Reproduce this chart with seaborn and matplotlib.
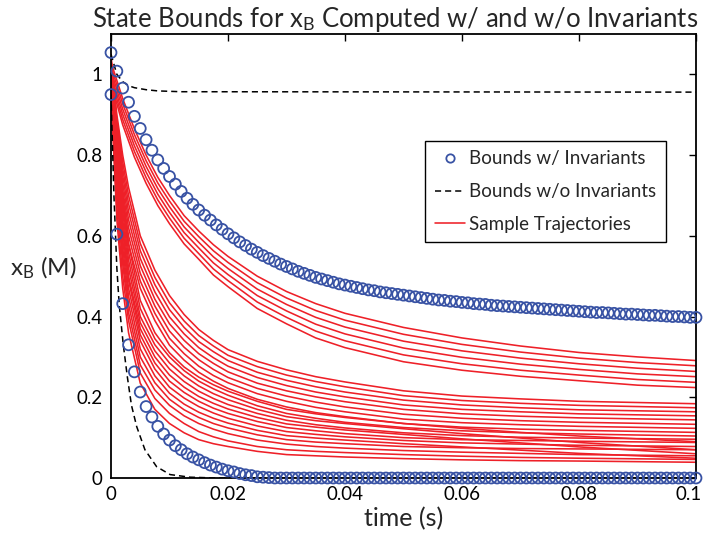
import numpy as np
import pandas as pd
import matplotlib
matplotlib.use("Agg")
import matplotlib.pyplot as plt
import matplotlib.transforms as mtransforms
import seaborn as sns
from matplotlib.lines import Line2D

# ---------------- data ----------------
t_bound = np.round(np.arange(101) * 0.001, 3)

upper_inv = [1.054, 1.008, 0.966, 0.931, 0.896, 0.866, 0.838, 0.812, 0.788, 0.767,
             0.747, 0.728, 0.710, 0.693, 0.678, 0.664,
             0.651, 0.639, 0.627, 0.616, 0.605, 0.595, 0.585, 0.576, 0.567, 0.559,
             0.551, 0.544, 0.537, 0.530, 0.524, 0.518, 0.512, 0.507, 0.502, 0.497,
             0.493, 0.489, 0.485, 0.481, 0.478, 0.475, 0.472, 0.469, 0.466, 0.464,
             0.461, 0.459, 0.457, 0.455, 0.453,
             0.451, 0.449, 0.447, 0.445, 0.443, 0.441, 0.440, 0.438, 0.437, 0.435,
             0.434, 0.432, 0.431, 0.430, 0.428, 0.427, 0.426, 0.425, 0.424, 0.423,
             0.422, 0.421, 0.420, 0.419, 0.418, 0.417, 0.416, 0.415, 0.414, 0.413,
             0.412, 0.411, 0.410, 0.410, 0.409, 0.408, 0.407, 0.406, 0.406, 0.405,
             0.404, 0.403, 0.403, 0.402, 0.401, 0.400, 0.400, 0.399, 0.398, 0.398]

lower_inv = [0.950, 0.604, 0.432, 0.330, 0.263, 0.213, 0.177, 0.151, 0.128, 0.109,
             0.094, 0.080, 0.070, 0.060, 0.052, 0.045, 0.038, 0.032, 0.027, 0.022,
             0.018, 0.015, 0.011, 0.008, 0.006, 0.003, 0.002, 0.001] + [0.0] * 73

t_dash_up = [0, 0.001, 0.002, 0.003, 0.004, 0.006, 0.008, 0.012, 0.1]
dash_up = [1.05, 1.0, 0.982, 0.972, 0.967, 0.962, 0.959, 0.957, 0.956]

t_dash_lo = [0, 0.0002, 0.0005, 0.001, 0.0014, 0.0021, 0.0028, 0.0035, 0.0044,
             0.0058, 0.0078, 0.0101, 0.0135, 0.018, 0.1]
dash_lo = [0.95, 0.85, 0.70, 0.52, 0.43, 0.33, 0.25, 0.18, 0.127,
           0.07, 0.028, 0.0085, 0.002, 0.0, 0.0]

# slow-decaying sample trajectories
t_slow = [0, 0.002, 0.004, 0.006, 0.008, 0.01, 0.0125, 0.015, 0.0175, 0.02,
          0.025, 0.03, 0.035, 0.04, 0.05, 0.06, 0.07, 0.08, 0.09, 0.1]
slow_1 = [1.030, 0.940, 0.865, 0.800, 0.745, 0.700, 0.650, 0.612, 0.578, 0.549, 0.500, 0.462, 0.432, 0.408, 0.373, 0.347, 0.327, 0.311, 0.300, 0.291]
slow_2 = [1.020, 0.927, 0.851, 0.786, 0.731, 0.686, 0.636, 0.598, 0.563, 0.534, 0.484, 0.446, 0.415, 0.391, 0.356, 0.331, 0.312, 0.297, 0.286, 0.278]
slow_3 = [1.010, 0.914, 0.837, 0.772, 0.717, 0.672, 0.622, 0.584, 0.548, 0.519, 0.468, 0.430, 0.398, 0.374, 0.339, 0.315, 0.297, 0.283, 0.272, 0.264]
slow_4 = [1.000, 0.901, 0.823, 0.758, 0.703, 0.658, 0.608, 0.570, 0.533, 0.504, 0.452, 0.414, 0.381, 0.357, 0.322, 0.299, 0.282, 0.269, 0.258, 0.251]
slow_5 = [0.990, 0.888, 0.809, 0.744, 0.689, 0.644, 0.594, 0.556, 0.518, 0.489, 0.436, 0.398, 0.364, 0.340, 0.305, 0.283, 0.267, 0.255, 0.244, 0.237]
slow_6 = [0.980, 0.875, 0.795, 0.730, 0.675, 0.630, 0.580, 0.542, 0.503, 0.474, 0.420, 0.382, 0.347, 0.323, 0.288, 0.267, 0.252, 0.241, 0.230, 0.224]

# fast-decaying sample trajectories
t_fast = [0, 0.001, 0.002, 0.003, 0.005, 0.0075, 0.01, 0.0125, 0.015, 0.0175,
          0.02, 0.025, 0.03, 0.035, 0.04, 0.05, 0.06, 0.07, 0.08, 0.1]
fast_s1 = [1.040, 0.900, 0.800, 0.720, 0.600, 0.515, 0.452, 0.405, 0.368, 0.341, 0.318, 0.289, 0.268, 0.251, 0.238, 0.216, 0.203, 0.196, 0.190, 0.184]
fast_s2 = [1.030, 0.887, 0.783, 0.700, 0.581, 0.497, 0.434, 0.389, 0.353, 0.327, 0.304, 0.276, 0.255, 0.239, 0.226, 0.204, 0.192, 0.185, 0.180, 0.174]
fast_s3 = [1.020, 0.874, 0.766, 0.680, 0.563, 0.479, 0.417, 0.373, 0.338, 0.313, 0.291, 0.262, 0.242, 0.226, 0.213, 0.193, 0.181, 0.174, 0.169, 0.164]
fast_s4 = [1.010, 0.861, 0.749, 0.660, 0.544, 0.461, 0.399, 0.357, 0.323, 0.298, 0.277, 0.249, 0.229, 0.213, 0.201, 0.181, 0.170, 0.164, 0.159, 0.154]
fast_s5 = [1.000, 0.849, 0.731, 0.640, 0.526, 0.443, 0.382, 0.341, 0.308, 0.284, 0.263, 0.235, 0.216, 0.201, 0.189, 0.170, 0.159, 0.153, 0.149, 0.144]
fast_s6 = [0.990, 0.836, 0.714, 0.620, 0.507, 0.426, 0.364, 0.324, 0.293, 0.269, 0.249, 0.222, 0.203, 0.188, 0.176, 0.158, 0.148, 0.142, 0.138, 0.133]
fast_s7 = [0.980, 0.823, 0.697, 0.600, 0.488, 0.408, 0.346, 0.308, 0.277, 0.254, 0.236, 0.209, 0.190, 0.175, 0.164, 0.146, 0.137, 0.132, 0.128, 0.123]
fast_s8 = [0.970, 0.810, 0.680, 0.580, 0.470, 0.390, 0.329, 0.292, 0.262, 0.240, 0.222, 0.195, 0.176, 0.162, 0.152, 0.135, 0.126, 0.121, 0.118, 0.113]
fast_d1 = [1.05, 0.85, 0.70, 0.58, 0.440, 0.360, 0.310, 0.275, 0.250, 0.231, 0.215, 0.190, 0.170, 0.159, 0.150, 0.135, 0.123, 0.113, 0.104, 0.090]
fast_d2 = [1.03, 0.83, 0.68, 0.56, 0.420, 0.345, 0.300, 0.266, 0.240, 0.221, 0.205, 0.179, 0.160, 0.148, 0.138, 0.125, 0.117, 0.112, 0.109, 0.104]
fast_d3 = [1.01, 0.81, 0.66, 0.54, 0.400, 0.330, 0.285, 0.253, 0.228, 0.209, 0.194, 0.170, 0.152, 0.142, 0.135, 0.122, 0.110, 0.099, 0.088, 0.070]
fast_d4 = [0.99, 0.79, 0.64, 0.52, 0.385, 0.315, 0.270, 0.239, 0.215, 0.197, 0.182, 0.160, 0.143, 0.132, 0.124, 0.112, 0.105, 0.101, 0.099, 0.096]
fast_d5 = [0.97, 0.77, 0.62, 0.50, 0.370, 0.300, 0.255, 0.225, 0.202, 0.185, 0.171, 0.150, 0.134, 0.126, 0.119, 0.108, 0.097, 0.087, 0.077, 0.060]
fast_d6 = [1.04, 0.78, 0.61, 0.49, 0.355, 0.285, 0.240, 0.212, 0.190, 0.173, 0.160, 0.140, 0.125, 0.117, 0.110, 0.100, 0.095, 0.093, 0.091, 0.088]
fast_d7 = [1.02, 0.76, 0.59, 0.47, 0.340, 0.270, 0.225, 0.198, 0.177, 0.161, 0.148, 0.129, 0.115, 0.108, 0.102, 0.093, 0.087, 0.084, 0.081, 0.078]
fast_d8 = [1.00, 0.74, 0.57, 0.45, 0.320, 0.253, 0.210, 0.183, 0.163, 0.148, 0.136, 0.118, 0.105, 0.099, 0.094, 0.085, 0.077, 0.069, 0.061, 0.049]
fast_d9 = [0.98, 0.72, 0.55, 0.43, 0.300, 0.236, 0.195, 0.169, 0.150, 0.135, 0.124, 0.107, 0.095, 0.089, 0.085, 0.078, 0.075, 0.073, 0.072, 0.070]
fast_d10 = [0.96, 0.70, 0.53, 0.41, 0.280, 0.218, 0.180, 0.154, 0.135, 0.121, 0.110, 0.094, 0.084, 0.078, 0.074, 0.068, 0.064, 0.061, 0.058, 0.055]
fast_d11 = [0.97, 0.67, 0.50, 0.39, 0.260, 0.197, 0.160, 0.135, 0.115, 0.102, 0.092, 0.078, 0.070, 0.066, 0.063, 0.058, 0.054, 0.051, 0.049, 0.046]
fast_d12 = [0.95, 0.64, 0.47, 0.36, 0.235, 0.170, 0.135, 0.112, 0.095, 0.085, 0.078, 0.066, 0.058, 0.055, 0.052, 0.048, 0.045, 0.043, 0.042, 0.039]

x_ticks = [0, 0.02, 0.04, 0.06, 0.08, 0.1]
x_ticklabels = ["0", "0.02", "0.04", "0.06", "0.08", "0.1"]
y_ticks = [0, 0.2, 0.4, 0.6, 0.8, 1.0]
y_ticklabels = ["0", "0.2", "0.4", "0.6", "0.8", "1"]

title = r"State Bounds for x$_\mathrm{B}$ Computed w/ and w/o Invariants"
xlabel = "time (s)"
ylabel = r"x$_\mathrm{B}$ (M)"
legend_labels = ["Bounds w/ Invariants", "Bounds w/o Invariants", "Sample Trajectories"]

# ---------------- style ----------------
sns.set_style("white")
plt.rcParams["font.family"] = ["Lato", "DejaVu Sans"]
plt.rcParams["mathtext.fontset"] = "custom"
plt.rcParams["mathtext.rm"] = "Lato"
plt.rcParams["mathtext.it"] = "Lato:italic"
plt.rcParams["mathtext.bf"] = "Lato:bold"

RED = "#ee2028"
BLUE = "#3852a4"
DASH = (0, (4, 2.6))

fig = plt.figure(figsize=(7.04, 5.40), dpi=100)
ax = fig.add_axes([111 / 704, 1 - 478 / 540, 585 / 704, 444 / 540])

# trajectories
frames = []
slow_list = [slow_1, slow_2, slow_3, slow_4, slow_5, slow_6]
fast_list = [fast_s1, fast_s2, fast_s3, fast_s4, fast_s5, fast_s6, fast_s7, fast_s8,
             fast_d1, fast_d2, fast_d3, fast_d4, fast_d5, fast_d6, fast_d7, fast_d8,
             fast_d9, fast_d10, fast_d11, fast_d12]
k = 0
for vals in slow_list:
    frames.append(pd.DataFrame({"t": t_slow, "v": vals, "id": k}))
    k += 1
for vals in fast_list:
    frames.append(pd.DataFrame({"t": t_fast, "v": vals, "id": k}))
    k += 1
df_traj = pd.concat(frames, ignore_index=True)

sns.lineplot(data=df_traj, x="t", y="v", units="id", estimator=None, sort=False,
             color=RED, lw=1.15, ax=ax, legend=False, zorder=2)

# bounds without invariants (dashed)
sns.lineplot(x=t_dash_up, y=dash_up, color="black", lw=1.1, ax=ax, sort=False,
             estimator=None, zorder=3, dashes=False, linestyle=DASH)
sns.lineplot(x=t_dash_lo, y=dash_lo, color="black", lw=1.1, ax=ax, sort=False,
             estimator=None, zorder=3, dashes=False, linestyle=DASH)

# bounds with invariants (circles)
for vals in (upper_inv, lower_inv):
    sns.scatterplot(x=t_bound, y=vals, marker="o", s=62, color=BLUE,
                    facecolors="none", edgecolor=BLUE, linewidth=1.3,
                    ax=ax, zorder=4, clip_on=False, legend=False)

ax.set_xlim(0, 0.1)
ax.set_ylim(0, 1.1)
ax.set_xticks(x_ticks)
ax.set_xticklabels(x_ticklabels)
ax.set_yticks(y_ticks)
ax.set_yticklabels(y_ticklabels)
ax.tick_params(direction="in", top=True, right=True, length=5, width=1.0,
               labelsize=13.5, pad=6, colors="black")
for sp in ax.spines.values():
    sp.set_visible(True)
    sp.set_color("black")
    sp.set_linewidth(1.3)

# keep last x tick label inside the figure
last = ax.get_xticklabels()[-1]
last.set_transform(last.get_transform() +
                   mtransforms.ScaledTranslation(-7 / 100, 0, fig.dpi_scale_trans))

ax.set_title(title, fontsize=18.5, pad=5, x=(395 - 111) / 585)
ax.set_xlabel(xlabel, fontsize=18, labelpad=3)
ax.set_ylabel(ylabel, fontsize=17.5, rotation=0, ha="center", va="center")
ax.yaxis.set_label_coords(-0.116, 0.473)

handles = [
    Line2D([], [], marker="o", ls="none", mfc="none", mec=BLUE, ms=6, mew=1.3),
    Line2D([], [], color="black", lw=1.1, ls=DASH),
    Line2D([], [], color=RED, lw=1.15),
]
leg = ax.legend(handles, legend_labels, loc="upper left",
                bbox_to_anchor=(0.537, 0.759), borderaxespad=0,
                fontsize=13.5, frameon=True,
                fancybox=False, edgecolor="black", framealpha=1,
                handlelength=1.65, handletextpad=0.2, borderpad=0.5,
                labelspacing=0.84)
leg.get_frame().set_linewidth(1.0)
leg.set_zorder(5)

fig.savefig("out.png", dpi=100)
